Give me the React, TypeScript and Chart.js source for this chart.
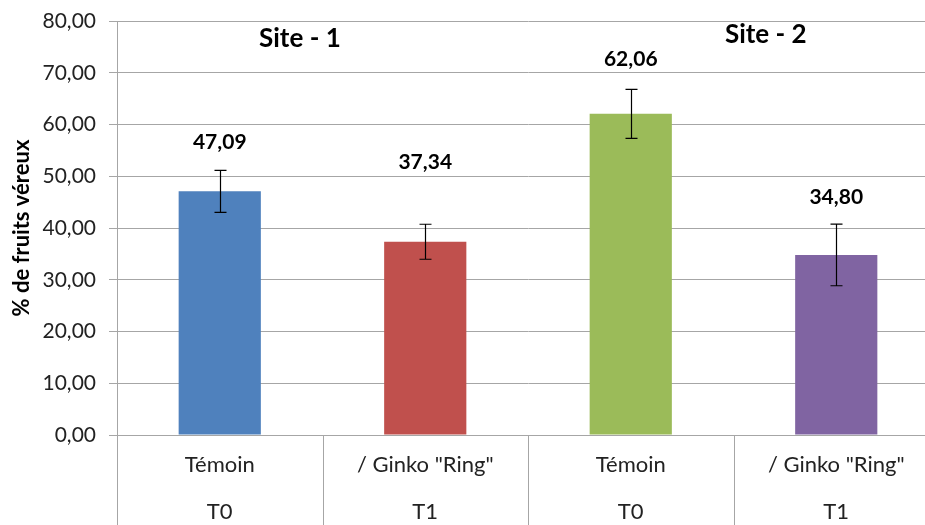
import React, { useEffect, useRef } from "react";
import { Chart, registerables } from "chart.js";

Chart.register(...registerables);

// ---- data ----
const categories: string[][] = [
  ["Témoin", "T0"],
  ['/ Ginko "Ring"', "T1"],
  ["Témoin", "T0"],
  ['/ Ginko "Ring"', "T1"],
];
const values: number[] = [47.09, 37.34, 62.06, 34.8];
const errors: number[] = [4.06, 3.38, 4.74, 5.96];
const barColors: string[] = ["#4F81BD", "#C0504D", "#9BBB59", "#8064A2"];
const siteLabels: string[] = ["Site - 1", "Site - 2"];
const yMin = 0;
const yMax = 80;
const yStep = 10;
const yTitle = "% de fruits véreux";

const FONT = "Lato, 'Open Sans', sans-serif";
const GRID = "#a6a6a6";

const fmt = (v: number) => v.toFixed(2).replace(".", ",");

const decorPlugin = {
  id: "decor",
  afterDraw(chart: any) {
    const { ctx, chartArea, scales } = chart;
    const xs = scales.x;
    const ys = scales.y;
    const opts = chart.options.plugins.decor;
    ctx.save();

    // category separators below axis
    ctx.strokeStyle = GRID;
    ctx.lineWidth = 1;
    for (let i = 0; i <= categories.length; i++) {
      const x = Math.round(xs.getPixelForValue(i - 0.5)) + 0.5;
      ctx.beginPath();
      ctx.moveTo(x, chartArea.bottom);
      ctx.lineTo(x, chart.height);
      ctx.stroke();
    }

    // error bars
    const meta = chart.getDatasetMeta(0);
    ctx.strokeStyle = "#000";
    ctx.lineWidth = 1.2;
    meta.data.forEach((bar: any, i: number) => {
      const x = Math.round(bar.x) + 0.5;
      const yt = ys.getPixelForValue(values[i] + errors[i]);
      const yb = ys.getPixelForValue(values[i] - errors[i]);
      const cap = 6;
      ctx.beginPath();
      ctx.moveTo(x, yt);
      ctx.lineTo(x, yb);
      ctx.moveTo(x - cap, yt);
      ctx.lineTo(x + cap, yt);
      ctx.moveTo(x - cap, yb);
      ctx.lineTo(x + cap, yb);
      ctx.stroke();

      // data label
      ctx.fillStyle = "#000";
      ctx.font = `bold 21px ${FONT}`;
      ctx.textAlign = "center";
      ctx.textBaseline = "middle";
      ctx.fillText(fmt(values[i]), bar.x, yt - opts.labelOffsets[i]);
    });

    // site titles
    ctx.font = `bold 26px ${FONT}`;
    ctx.fillStyle = "#000";
    ctx.textAlign = "center";
    ctx.textBaseline = "middle";
    siteLabels.forEach((s, i) => {
      const p = opts.sitePos[i];
      ctx.fillText(s, xs.getPixelForValue(p[0]), ys.getPixelForValue(p[1]));
    });
    ctx.restore();
  },
};

export default function App() {
  const ref = useRef<HTMLCanvasElement>(null);

  useEffect(() => {
    if (!ref.current) return;
    const chart = new Chart(ref.current, {
      type: "bar",
      data: {
        labels: categories,
        datasets: [
          {
            data: values,
            backgroundColor: barColors,
            borderWidth: 0,
            barPercentage: 0.4,
            categoryPercentage: 1,
          },
        ],
      },
      options: {
        responsive: false,
        animation: false,
        devicePixelRatio: 1,
        layout: { padding: { top: 21, left: 0, right: 0, bottom: 0 } },
        plugins: {
          legend: { display: false },
          tooltip: { enabled: false },
          decor: {
            labelOffsets: [28, 62, 30, 27],
            sitePos: [
              [0.39, 76.6],
              [2.657, 77.3],
            ],
          },
        } as any,
        scales: {
          x: {
            type: "category",
            grid: { display: false },
            border: { display: false },
            ticks: {
              color: "#222",
              font: { family: FONT, size: 22, lineHeight: 2.15 },
              padding: -2,
              maxRotation: 0,
              autoSkip: false,
            },
            afterFit(scale: any) {
              scale.height = 90;
            },
          },
          y: {
            min: yMin,
            max: yMax,
            ticks: {
              stepSize: yStep,
              color: "#222",
              font: { family: FONT, size: 21, lineHeight: 0.6 },
              padding: 13,
              callback: (v: any) => fmt(Number(v)),
            },
            grid: {
              color: GRID,
              tickColor: GRID,
              drawTicks: true,
              tickLength: 8,
              lineWidth: 1,
            },
            border: { display: true, color: GRID, width: 1 },
            title: {
              display: true,
              text: yTitle,
              color: "#000",
              font: { family: FONT, size: 22, weight: "bold" },
              padding: { top: 9, bottom: 0 },
            },
            afterFit(scale: any) {
              scale.width = 117;
            },
          },
        },
      },
      plugins: [decorPlugin],
    });
    return () => chart.destroy();
  }, []);

  return (
    <div
      style={{
        position: "absolute",
        left: 0,
        top: 0,
        width: 925,
        height: 525,
        overflow: "hidden",
        background: "#fff",
      }}
    >
      <canvas ref={ref} width={939} height={525} style={{ width: 939, height: 525, display: "block" }} />
    </div>
  );
}
